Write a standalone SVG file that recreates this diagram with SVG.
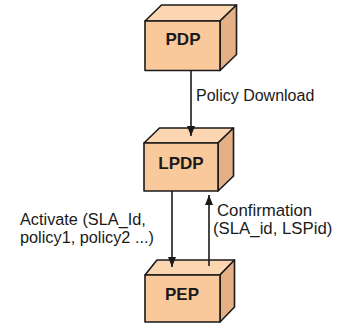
<svg xmlns="http://www.w3.org/2000/svg" width="338" height="330" viewBox="0 0 338 330">
<style>
.front{fill:#F9C99C;stroke:#1a1a1a;stroke-width:1.6;stroke-linejoin:round}
.top{fill:#FBD6B0;stroke:#1a1a1a;stroke-width:1.6;stroke-linejoin:round}
.side{fill:#E6B086;stroke:#1a1a1a;stroke-width:1.6;stroke-linejoin:round}
.lbl{font-family:"Liberation Sans",Arial,sans-serif;font-weight:bold;font-size:17px;fill:#1a1a1a;text-anchor:middle}
.txt{font-family:"Liberation Sans",Arial,sans-serif;fill:#1a1a1a}
.con{stroke:#1a1a1a;stroke-width:1.6;fill:none}
</style>
<defs>
<marker id="ah" viewBox="0 0 10 10" refX="10" refY="5" markerWidth="10" markerHeight="8" markerUnits="userSpaceOnUse" orient="auto" preserveAspectRatio="none">
<path d="M0,0 L10,5 L0,10 Z" fill="#1a1a1a"/>
</marker>
</defs>
<rect width="338" height="330" fill="#fff"/>
<g id="PDP">
<polygon class="top" points="145,21 161.5,5 236.5,5 220,21"/>
<polygon class="side" points="220,21 236.5,5 236.5,54.5 220,70.5"/>
<rect class="front" x="145" y="21" width="75" height="49.5"/>
<text class="lbl" x="183" y="44.5">PDP</text>
</g>
<g id="LPDP">
<polygon class="top" points="144,143 159.5,128 233.5,128 218,143"/>
<polygon class="side" points="218,143 233.5,128 233.5,176 218,191"/>
<rect class="front" x="144" y="143" width="74" height="48"/>
<text class="lbl" x="181" y="168.5">LPDP</text>
</g>
<g id="PEP">
<polygon class="top" points="145,275 157,260 234.5,260 220,275"/>
<polygon class="side" points="220,275 234.5,260 234.5,307 220,322"/>
<rect class="front" x="145" y="275" width="75" height="47"/>
<text class="lbl" x="182" y="299.5">PEP</text>
</g>
<g id="connectors">
<line class="con" x1="191" y1="71" x2="191" y2="136" marker-end="url(#ah)"/>
<line class="con" x1="172" y1="191" x2="172" y2="267" marker-end="url(#ah)"/>
<line class="con" x1="209" y1="266" x2="209" y2="195" marker-end="url(#ah)"/>
<text class="txt" x="196" y="101" font-size="16">Policy Download</text>
<text class="txt" font-size="16.3"><tspan x="20" y="225">Activate (SLA_Id,</tspan><tspan x="20" y="242.5">policy1, policy2 ...)</tspan></text>
<text class="txt" font-size="16.8"><tspan x="217" y="216">Confirmation</tspan><tspan x="213" y="233.5">(SLA_id, LSPid)</tspan></text>
</g>
</svg>
